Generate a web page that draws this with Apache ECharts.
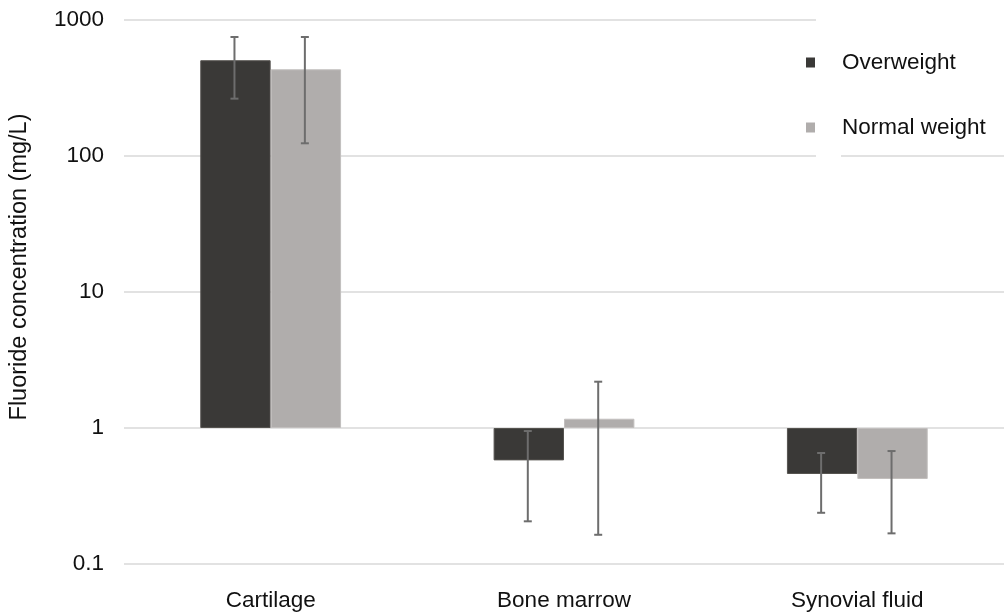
<!DOCTYPE html>
<html>
<head>
<meta charset="utf-8">
<script src="https://cdn.jsdelivr.net/npm/echarts@6/dist/echarts.min.js"></script>
<style>
  html, body { margin: 0; padding: 0; background: #fff; }
  #chart { width: 1004px; height: 616px; }
</style>
</head>
<body>
<div id="chart"></div>
<script>
// Fluoride concentration by tissue and weight group (log scale)
const categories = ['Cartilage', 'Bone marrow', 'Synovial fluid'];
const yTicks = [0.1, 1, 10, 100, 1000];

const overweight = [506, 0.578, 0.459];
const overweightLow = [264, 0.206, 0.238];
const overweightHigh = [750, 0.95, 0.655];

const normalWeight = [434, 1.17, 0.422];
const normalLow = [124, 0.164, 0.168];
const normalHigh = [750, 2.19, 0.677];

const FONT = 'Liberation Sans, Arial, sans-serif';
const TEXT = '#111111';
const CAT_GAP = 0.52;          // share of each category band left empty
const ERR_COLOR = '#6d6d6d';

function errorData(low, high) {
  return categories.map((c, i) => [i, low[i], high[i]]);
}

// Whisker drawn at the centre of the bar of series `slot` (0 = left, 1 = right)
function errorRenderer(slot) {
  return function (params, api) {
    const idx = api.value(0);
    const band = api.coord([1, 1])[0] - api.coord([0, 1])[0];
    const barW = band * (1 - CAT_GAP) / 2;
    const dx = (slot === 0 ? -0.5 : 0.5) * barW - 1;
    const lo = api.coord([idx, api.value(1)]);
    const hi = api.coord([idx, api.value(2)]);
    const x = lo[0] + dx;
    const cap = 4;
    const style = { stroke: ERR_COLOR, lineWidth: 2 };
    return {
      type: 'group',
      children: [
        { type: 'line', shape: { x1: x, y1: hi[1], x2: x, y2: lo[1] }, style },
        { type: 'line', shape: { x1: x - cap, y1: hi[1], x2: x + cap, y2: hi[1] }, style },
        { type: 'line', shape: { x1: x - cap, y1: lo[1], x2: x + cap, y2: lo[1] }, style }
      ]
    };
  };
}

const chart = echarts.init(document.getElementById('chart'), null, { renderer: 'canvas' });

chart.setOption({
  animation: false,
  backgroundColor: '#ffffff',
  textStyle: { fontFamily: FONT },
  grid: { left: 120, right: 0, top: 20, bottom: 52, containLabel: false },
  legend: {
    data: ['Overweight', 'Normal weight'],
    orient: 'vertical',
    left: 801,
    top: 46,
    itemWidth: 9,
    itemHeight: 10,
    itemGap: 42,
    icon: 'rect',
    itemStyle: { borderWidth: 0 },
    textStyle: { fontFamily: FONT, fontSize: 22.5, color: TEXT, padding: [0, 0, 0, 22] }
  },
  graphic: [
    { type: 'rect', z: 3, silent: true, shape: { x: 816, y: 10, width: 25, height: 152 }, style: { fill: '#ffffff' } },
    { type: 'rect', z: 3, silent: true, shape: { x: 841, y: 10, width: 163, height: 140 }, style: { fill: '#ffffff' } }
  ],
  xAxis: {
    type: 'category',
    data: categories,
    axisLine: { show: false },
    axisTick: { show: false },
    axisLabel: { fontFamily: FONT, fontSize: 22.5, color: TEXT, margin: 25 }
  },
  yAxis: {
    type: 'log',
    logBase: 10,
    min: yTicks[0],
    max: yTicks[yTicks.length - 1],
    name: 'Fluoride concentration (mg/L)',
    nameLocation: 'middle',
    nameGap: 92,
    nameTextStyle: { fontFamily: FONT, fontSize: 23.5, color: TEXT, padding: [0, 0, 0, 50] },
    axisLine: { show: false },
    axisTick: { show: false },
    axisLabel: {
      fontFamily: FONT, fontSize: 22.5, color: TEXT, margin: 20,
      formatter: v => String(v)
    },
    splitLine: { lineStyle: { color: '#e2e2e2', width: 2 } }
  },
  series: [
    {
      name: 'Overweight',
      type: 'bar',
      data: overweight,
      barGap: '0%',
      barCategoryGap: (CAT_GAP * 100) + '%',
      itemStyle: { color: '#3a3937', borderColor: '#55534f', borderWidth: 1 }
    },
    {
      name: 'Normal weight',
      type: 'bar',
      data: normalWeight,
      barGap: '0%',
      barCategoryGap: (CAT_GAP * 100) + '%',
      itemStyle: { color: '#b0adac', borderColor: '#c2bfbe', borderWidth: 1 }
    },
    {
      type: 'custom',
      z: 5,
      renderItem: errorRenderer(0),
      encode: { x: 0, y: [1, 2] },
      data: errorData(overweightLow, overweightHigh)
    },
    {
      type: 'custom',
      z: 5,
      renderItem: errorRenderer(1),
      encode: { x: 0, y: [1, 2] },
      data: errorData(normalLow, normalHigh)
    }
  ]
});
</script>
</body>
</html>
